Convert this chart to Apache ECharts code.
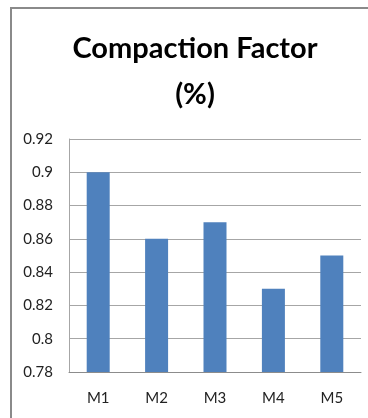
<!DOCTYPE html>
<html>
<head>
<meta charset="utf-8">
<script src="https://cdn.jsdelivr.net/npm/echarts@6/dist/echarts.min.js"></script>
<style>
html,body{margin:0;padding:0;background:#fff;}
#c{width:368px;height:418px;}
</style>
</head>
<body>
<div id="c"></div>
<script>
const categories = ['M1', 'M2', 'M3', 'M4', 'M5'];
const values = [0.90, 0.86, 0.87, 0.83, 0.85];
const yMin = 0.78, yMax = 0.92, yStep = 0.02;
const titleLines = ['Compaction Factor', '(%)'];

const chart = echarts.init(document.getElementById('c'), null, {renderer: 'canvas'});
chart.setOption({
  animation: false,
  backgroundColor: '#ffffff',
  title: {
    text: titleLines.join('\n'),
    left: 190,
    top: 21,
    textAlign: 'center',
    textStyle: {
      fontFamily: 'Lato',
      fontWeight: 'bold',
      fontSize: 29,
      lineHeight: 46,
      color: '#000000'
    }
  },
  graphic: [{
    type: 'rect',
    shape: {x: 11, y: 8, width: 420, height: 460},
    style: {fill: 'none', stroke: '#8a8a8a', lineWidth: 2},
    silent: true
  }],
  grid: {left: 69, right: 7, top: 139, bottom: 46, containLabel: false},
  xAxis: {
    type: 'category',
    data: categories,
    axisLine: {show: true, lineStyle: {color: '#8c8c8c', width: 1}},
    axisTick: {show: false},
    axisLabel: {fontFamily: 'Lato', fontSize: 15, color: '#222', margin: 19}
  },
  yAxis: {
    type: 'value',
    min: yMin,
    max: yMax,
    interval: yStep,
    axisLine: {show: true, lineStyle: {color: '#a6a6a6', width: 1}},
    axisTick: {show: false},
    splitLine: {show: true, lineStyle: {color: '#a6a6a6', width: 1}},
    axisLabel: {
      fontFamily: 'Lato', fontSize: 15, color: '#222', margin: 16,
      formatter: v => String(+v.toFixed(2))
    }
  },
  series: [{
    type: 'bar',
    data: values,
    barWidth: 23,
    itemStyle: {color: '#4f81bd'}
  }]
});
</script>
</body>
</html>
